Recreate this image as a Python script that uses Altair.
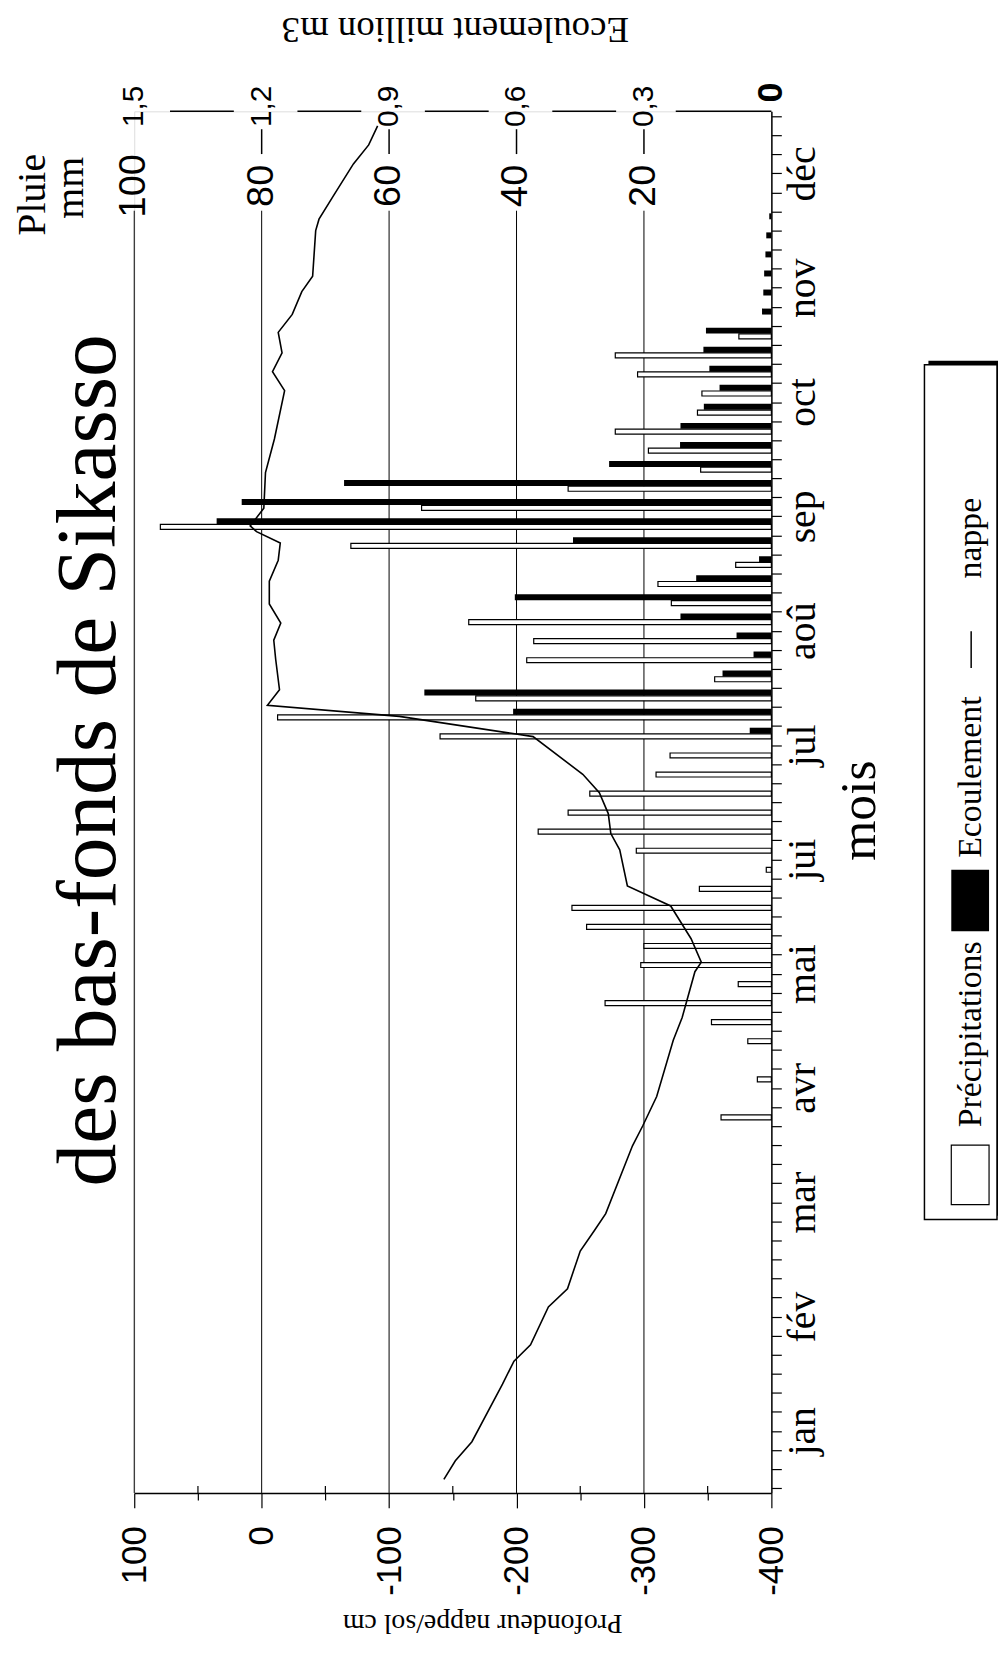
import altair as alt
import pandas as pd

# ---------------- data ----------------
months = ["jan", "fév", "mar", "avr", "mai", "jui", "jul", "aoû", "sep", "oct", "nov", "déc"]

# pentad index (0 = first pentad of January, 6 pentads per month)
rain_pentad = [19, 21, 23, 24, 25, 26, 27, 28, 29, 30, 31, 32, 33, 34, 35, 36, 37, 38, 39, 40,
               41, 42, 43, 44, 45, 46, 47, 48, 49, 50, 51, 52, 53, 54, 55, 56, 57, 58, 59, 60]
rain_mm = [7.9, 2.2, 3.7, 9.4, 26.1, 5.2, 20.5, 20.0, 29.0, 31.3, 11.3, 0.8, 21.2, 36.6, 31.9, 28.5, 18.1, 15.9, 52.0, 77.5,
           46.4, 8.9, 38.4, 37.3, 47.5, 15.7, 17.8, 5.6, 66.0, 95.9, 54.9, 31.9, 11.1, 19.3, 24.5, 11.6, 10.9, 21.0, 24.5, 5.1]

flow_pentad = [39, 40, 41, 42, 43, 44, 45, 46, 47, 48, 49, 50, 51, 52, 53, 54, 55, 56, 57, 58,
               59, 60, 61, 62, 63, 64, 65, 66]
flow_m3 = [0.051, 0.608, 0.817, 0.115, 0.042, 0.082, 0.214, 0.604, 0.177, 0.029, 0.467, 1.306, 1.247, 1.006, 0.382, 0.215,
           0.214, 0.159, 0.122, 0.146, 0.160, 0.154, 0.022, 0.019, 0.017, 0.014, 0.012, 0.005]

nappe_pos = [0.45, 1.43, 2.43, 5.45, 6.66, 7.52, 9.5, 10.46, 12.44, 13.5,
             14.4, 17.96, 19.0, 20.55, 23.5, 24.7, 27.1, 27.6, 28.83, 30.55,
             31.6, 33.5, 34.35, 35.4, 36.5, 37.46, 39.44, 40.5, 41.08, 41.9,
             43.5, 44.5, 45.4, 46.4, 47.6, 48.7, 49.6, 50.2, 50.5, 51.43,
             53.3, 55.06, 57.6, 58.6, 59.58, 60.66, 61.6, 62.8, 63.6, 66.0,
             66.6, 67.9, 69.5, 70.5, 71.5]
nappe_cm = [-143, -152, -165, -189, -198, -211, -225, -240, -250, -261,
            -270, -291, -299, -310, -323, -330, -340, -345, -337, -321,
            -287, -281, -274, -272, -265, -252, -213, -108, -4.5, -14,
            -11, -9.5, -15, -6, -6, -13, -14.6, 4, 9, -1.7,
            -3, -10, -18, -8.5, -16, -13, -24, -31.5, -40, -42.4,
            -45, -57, -72, -84, -91]

depth_ticks = list(range(-400, 101, 50))
depth_minor = [-350, -250, -150, -50, 50]
rain_ticks = [100, 80, 60, 40, 20]
rain_tick_labels = ["100", "80", "60", "40", "20"]
flow_ticks = [1.5, 1.2, 0.9, 0.6, 0.3]
flow_tick_labels = ["1,5", "1,2", "0,9", "0,6", "0,3"]

# ---------------- frames ----------------
rain_df = pd.DataFrame({"pentad": rain_pentad, "mm": rain_mm})
rain_df["pos"] = rain_df["pentad"] + 0.45
rain_df["zero"] = 0.0
flow_df = pd.DataFrame({"pentad": flow_pentad, "m3": flow_m3})
flow_df["pos"] = flow_df["pentad"] + 0.75
flow_df["zero"] = 0.0
nappe_df = pd.DataFrame({"pos": nappe_pos, "cm": nappe_cm})

rain_tick_df = pd.DataFrame({"v": rain_ticks, "lab": rain_tick_labels})
flow_tick_df = pd.DataFrame({"v": flow_ticks, "lab": flow_tick_labels})
seg_df = pd.DataFrame({"a": flow_ticks[:-1], "b": flow_ticks[1:]})
seg_last_df = pd.DataFrame({"a": [flow_ticks[-1]], "b": [0.0]})
minor_df = pd.DataFrame({"v": depth_minor})

W, H = 641, 1390
SERIF = "Liberation Serif"
SANS = "Liberation Sans"

pos_scale = alt.Scale(domain=[0, 72], nice=False, zero=False)
depth_scale = alt.Scale(domain=[-400, 100], reverse=True, nice=False, zero=False)
rain_scale = alt.Scale(domain=[0, 100], reverse=True, nice=False, zero=False)
flow_scale = alt.Scale(domain=[0, 1.5], reverse=True, nice=False, zero=False)

month_arr = "[" + ",".join("'" + m + "'" for m in months) + "]"
month_axis = alt.Axis(
    orient="right", values=list(range(73)),
    labelExpr="datum.value % 6 == 3 ? " + month_arr + "[floor(datum.value / 6)] : ''",
    labelAngle=270, labelAlign="center", labelBaseline="top", labelPadding=1,
    labelFont=SERIF, labelFontSize=40, labelColor="black", labelOverlap=False, labelFlush=False,
    tickSize=10, tickColor="black", tickWidth=1.2, domainColor="black", domainWidth=1.5, grid=False,
    title="mois", titleFont=SERIF, titleFontSize=52, titleFontWeight="normal", titleColor="black",
    titleAngle=270, titleX=104, titleY=703, titleAlign="center", titleBaseline="alphabetic",
)


def ypos():
    return alt.Y("pos:Q", scale=pos_scale, axis=month_axis)


depth_axis = alt.Axis(
    orient="bottom", values=depth_ticks,
    labelExpr="datum.value % 100 == 0 ? '' + datum.value : ''",
    labelAngle=270, labelAlign="right", labelBaseline="middle", labelPadding=18,
    labelFont=SANS, labelFontSize=35, labelColor="black", labelOverlap=False, labelFlush=False,
    tickSize={"condition": {"test": "datum.value % 100 == 0", "value": 15}, "value": 7},
    tickColor="black", tickWidth=1.2, domainColor="black", domainWidth=1.5, grid=False,
    title="Profondeur nappe/sol cm", titleFont=SERIF, titleFontSize=28, titleFontWeight="normal",
    titleColor="black", titleAngle=180, titleX=350, titleY=122, titleAlign="center",
    titleBaseline="alphabetic",
)

# ---------------- rain layer ----------------
grid = alt.Chart(rain_tick_df).mark_rule(color="black", strokeWidth=1).encode(
    x=alt.X("v:Q", scale=rain_scale, axis=None), y=alt.value(100), y2=alt.value(H))
rain_bars = alt.Chart(rain_df).mark_bar(orient="horizontal", size=5, fill="white",
                                        stroke="black", strokeWidth=1.2).encode(
    x=alt.X("mm:Q", scale=rain_scale, axis=None), x2="zero:Q", y=ypos())
rain_labels = alt.Chart(rain_tick_df).mark_text(angle=270, align="center", baseline="middle",
                                                font=SANS, fontSize=38, color="black").encode(
    x=alt.X("v:Q", scale=rain_scale, axis=None), y=alt.value(75), text="lab:N")
rain_layer = alt.layer(grid, rain_bars, rain_labels)

# ---------------- flow layer ----------------
flow_bars = alt.Chart(flow_df).mark_bar(orient="horizontal", size=6, color="black").encode(
    x=alt.X("m3:Q", scale=flow_scale, axis=None), x2="zero:Q", y=ypos())
flow_labels = alt.Chart(flow_tick_df).mark_text(angle=270, align="center", baseline="middle",
                                                font=SANS, fontSize=30, color="black").encode(
    x=alt.X("v:Q", scale=flow_scale, axis=None), y=alt.value(-5), text="lab:N")
zero_label = alt.Chart(pd.DataFrame({"v": [0.0], "lab": ["0"]})).mark_text(
    angle=270, align="center", baseline="middle", font=SANS, fontSize=36, fontWeight="bold",
    color="black").encode(x=alt.X("v:Q", scale=flow_scale, axis=None), y=alt.value(-19), text="lab:N")
segs = alt.Chart(seg_df).mark_rule(color="black", strokeWidth=1.5, xOffset=36, x2Offset=-28).encode(
    x=alt.X("a:Q", scale=flow_scale, axis=None), x2="b:Q", y=alt.value(0))
seg_last = alt.Chart(seg_last_df).mark_rule(color="black", strokeWidth=1.5, xOffset=32).encode(
    x=alt.X("a:Q", scale=flow_scale, axis=None), x2="b:Q", y=alt.value(0))
small_ticks = alt.Chart(flow_tick_df[flow_tick_df["v"] < 1.5]).mark_rule(color="black", strokeWidth=1.5).encode(
    x=alt.X("v:Q", scale=flow_scale, axis=None), y=alt.value(18), y2=alt.value(43))
flow_layer = alt.layer(flow_bars, flow_labels, zero_label, segs, seg_last, small_ticks)

# ---------------- nappe layer ----------------
minor_ticks = alt.Chart(minor_df).mark_rule(color="black", strokeWidth=1.2).encode(
    x=alt.X("v:Q", scale=depth_scale, axis=depth_axis), y=alt.value(H - 7), y2=alt.value(H))
nappe = alt.Chart(nappe_df).mark_line(color="black", strokeWidth=1.6).encode(
    x=alt.X("cm:Q", scale=depth_scale, axis=depth_axis), y=ypos(), order="pos:Q")
depth_layer = alt.layer(minor_ticks, nappe)


# ---------------- free texts & legend ----------------
def label(text, x, y, size, angle=270, align="center", baseline="alphabetic", font=SERIF, weight="normal"):
    return alt.Chart(pd.DataFrame({"t": [text]})).mark_text(
        angle=angle, align=align, baseline=baseline, font=font, fontSize=size,
        fontWeight=weight, color="black").encode(x=alt.value(x), y=alt.value(y), text="t:N")


def box(x, x2, y, y2, fill, stroke=None, sw=1.5):
    kw = {"fill": fill}
    if stroke:
        kw.update(stroke=stroke, strokeWidth=sw)
    return alt.Chart(pd.DataFrame({"k": [0]})).mark_rect(**kw).encode(
        x=alt.value(x), x2=alt.value(x2), y=alt.value(y), y2=alt.value(y2))


texts = [
    label("des bas-fonds de Sikasso", -19, 653, 86),
    label("Pluie", -90, 84, 40),
    label("mm", -52, 77, 40),
    label("Ecoulement million m3", 323, -94, 37, angle=180),
]

legend = [
    box(799, 872, 251, 1111, "black"),
    box(795, 868, 255, 1115, "white", "black"),
    box(822, 860, 1040, 1100, "white", "black", 1.2),
    box(822, 860, 763, 825, "black"),
    label("Précipitations", 842, 1022, 34, align="left", baseline="middle"),
    label("Ecoulement", 842, 751, 34, align="left", baseline="middle"),
    alt.Chart(pd.DataFrame({"k": [0]})).mark_rule(color="black", strokeWidth=1.5).encode(
        x=alt.value(842), y=alt.value(523), y2=alt.value(560)),
    label("nappe", 842, 470, 34, align="left", baseline="middle"),
]

chart = alt.layer(
    rain_layer, flow_layer, depth_layer, *texts, *legend
).resolve_scale(x="independent").properties(
    width=W, height=H,
    autosize=alt.AutoSizeParams(type="none"),
    padding={"left": 127, "top": 99, "right": 228, "bottom": 146},
).configure_view(stroke=None).configure(background="white")

chart.save("out.html", embed_options={"renderer": "svg", "actions": False})
